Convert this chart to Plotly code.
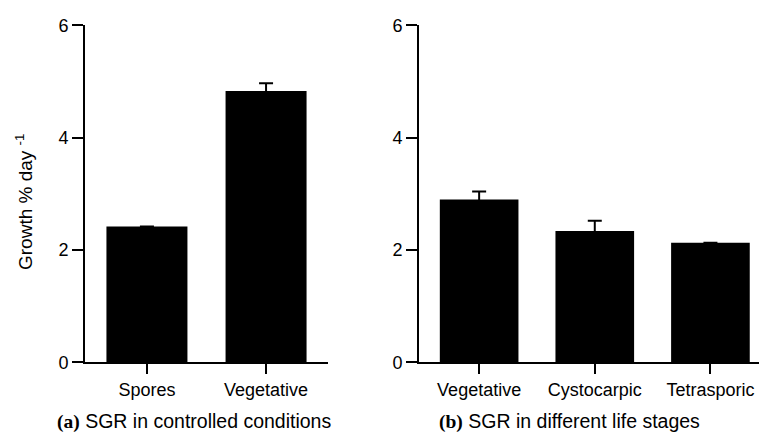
import plotly.graph_objects as go
from plotly.subplots import make_subplots

# Panel (a)
cat_a = ["Spores", "Vegetative"]
val_a = [2.42, 4.83]
err_a = [None, 0.14]

# Panel (b)
cat_b = ["Vegetative", "Cystocarpic", "Tetrasporic"]
val_b = [2.90, 2.34, 2.13]
err_b = [0.14, 0.18, None]

y_ticks = [0, 2, 4, 6]
y_title = "Growth % day <sup>-1</sup>"
cap_a = "SGR in controlled conditions"
cap_b = "SGR in different life stages"

W, H = 759, 446
FONT = "Liberation Sans, Arial, sans-serif"
SERIF = "Liberation Serif, Times New Roman, serif"

fig = make_subplots(rows=1, cols=2)

err_style = dict(type="data", symmetric=True, color="black", thickness=2, width=7)

fig.add_trace(go.Bar(x=list(range(len(cat_a))), y=val_a,
                     error_y=dict(array=err_a, **err_style),
                     marker=dict(color="black", line=dict(width=0))), row=1, col=1)
fig.add_trace(go.Bar(x=list(range(len(cat_b))), y=val_b,
                     error_y=dict(array=err_b, **err_style),
                     marker=dict(color="black", line=dict(width=0))), row=1, col=2)

ydom = [1 - 369 / H, 1 - 16 / H]
common_x = dict(showline=True, linewidth=2, linecolor="black", ticks="outside",
                ticklen=10, tickwidth=2, tickcolor="black", showgrid=False,
                zeroline=False, tickfont=dict(family=FONT, size=18, color="black"))
common_y = dict(showline=True, linewidth=2, linecolor="black", ticks="outside",
                ticklen=11, tickwidth=2, tickcolor="black", showgrid=False,
                zeroline=False, range=[0, 6], tickvals=y_ticks,
                tickfont=dict(family=FONT, size=18, color="black"), domain=ydom)

fig.update_xaxes(**common_x)
fig.update_yaxes(**common_y)
fig.update_layout(
    xaxis=dict(domain=[85 / W, 328 / W], range=[-0.52, 1.52],
               tickvals=list(range(len(cat_a))), ticktext=cat_a),
    xaxis2=dict(domain=[419 / W, 1.0], range=[-0.52, 2.42],
                tickvals=list(range(len(cat_b))), ticktext=cat_b),
    yaxis2=dict(anchor="x2"),
)

fig.update_layout(
    width=W, height=H, margin=dict(l=0, r=0, t=0, b=0),
    plot_bgcolor="white", paper_bgcolor="white", showlegend=False,
    bargap=0.32, font=dict(family=FONT, color="black"),
    annotations=[
        dict(text=y_title, x=24 / W, y=1 - 201 / H, xref="paper", yref="paper",
             textangle=-90, showarrow=False, xanchor="center", yanchor="middle",
             font=dict(family=FONT, size=19, color="black")),
        dict(text="<span style='font-family:" + SERIF + "'><b>(a)</b></span> " + cap_a,
             x=194 / W, y=1 - 431 / H, xref="paper", yref="paper", showarrow=False,
             xanchor="center", yanchor="middle", font=dict(family=FONT, size=19.5, color="black")),
        dict(text="<span style='font-family:" + SERIF + "'><b>(b)</b></span> " + cap_b,
             x=569 / W, y=1 - 431 / H, xref="paper", yref="paper", showarrow=False,
             xanchor="center", yanchor="middle", font=dict(family=FONT, size=19.5, color="black")),
    ],
)

fig.write_html(
    "out.html",
    config={"displayModeBar": False},
    post_script="document.body.style.margin='0';document.documentElement.style.overflow='hidden';document.body.style.overflow='hidden';",
)
